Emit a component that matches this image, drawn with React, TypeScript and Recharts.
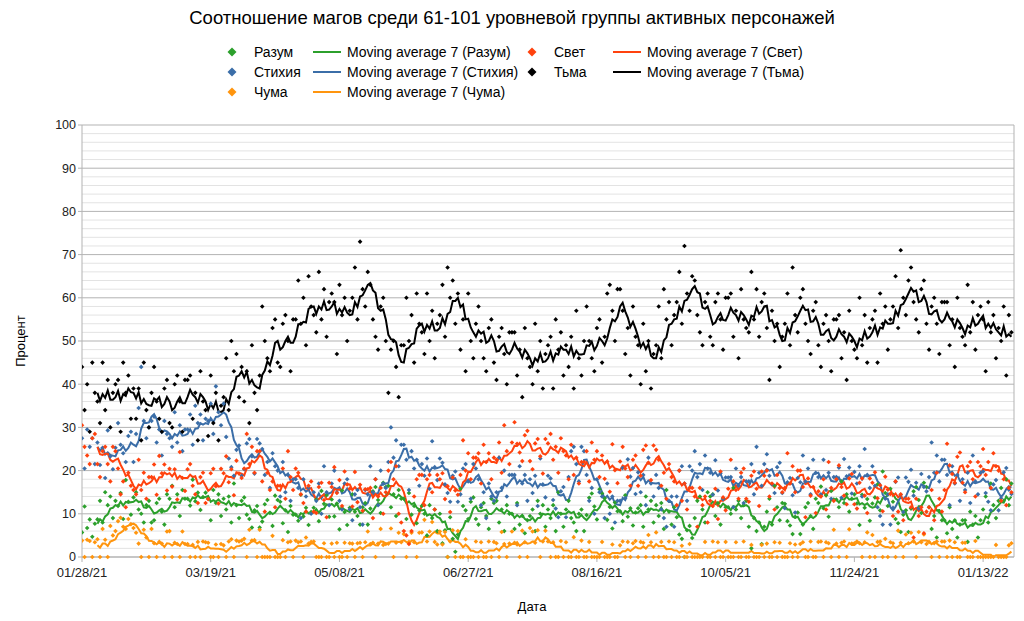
import React from 'react';
import { ComposedChart, Scatter, Line, XAxis, YAxis, ReferenceLine } from 'recharts';

const FONT = '"Liberation Sans", Arial, sans-serif';

const chartTitle = 'Соотношение магов среди 61-101 уровневой группы активных персонажей';
const xTitle = 'Дата';
const yTitle = 'Процент';
const tickDays = [0, 50, 100, 150, 200, 250, 300, 350];
const tickLabels = ['01/28/21', '03/19/21', '05/08/21', '06/27/21', '08/16/21', '10/05/21', '11/24/21', '01/13/22'];
const yTicks = [0, 10, 20, 30, 40, 50, 60, 70, 80, 90, 100];
const yMinor = [2, 4, 6, 8, 12, 14, 16, 18, 22, 24, 26, 28, 32, 34, 36, 38, 42, 44, 46, 48, 52, 54, 56, 58, 62, 64, 66, 68, 72, 74, 76, 78, 82, 84, 86, 88, 92, 94, 96, 98];

const razum = [
  5.7, 11.7, 6.7, 8.7, 4.7, 7.7, 8.7, 13, 8, 15, 12, 14, 9, 13, 11.8, 14.8, 8.8, 17.8, 12.8, 9.8, 13.8,
  15, 11, 10, 8, 12, 13, 8, 8.5, 12.5, 13.5, 10.5, 7.5, 14.5, 13.5, 16.5, 11.5, 14.5, 9.5, 15.5, 13.5, 13.5,
  11.9, 17.9, 12.9, 14.9, 10.9, 13.9, 14.9, 13.5, 8.5, 15.5, 12.5, 14.5, 9.5, 13.5, 11, 14, 8, 17, 12, 9, 13,
  13.8, 9.8, 8.8, 6.8, 10.8, 11.8, 6.8, 8.2, 12.2, 13.2, 10.2, 7.2, 14.2, 13.2, 12.8, 7.8, 10.8, 5.8, 11.8, 9.8, 9.8,
  8.4, 14.4, 9.4, 11.4, 7.4, 10.4, 11.4, 13.3, 8.3, 15.3, 12.3, 14.3, 9.3, 13.3, 9.4, 12.4, 6.4, 15.4, 10.4, 7.4, 11.4,
  14.5, 10.5, 9.5, 7.5, 11.5, 12.5, 7.5, 11.2, 15.2, 16.2, 13.2, 10.2, 17.2, 16.2, 16.5, 11.5, 14.5, 9.5, 15.5, 13.5, 13.5,
  8.8, 14.8, 9.8, 11.8, 7.8, 10.8, 11.8, 10, 5, 12, 9, 11, 6, 10, 3.2, 6.2, 0, 9.2, 4.2, 1.2, 5.2,
  15.8, 11.8, 10.8, 8.8, 12.8, 13.8, 8.8, 7.5, 11.5, 12.5, 9.5, 6.5, 13.5, 12.5, 13, 8, 11, 6, 12, 10, 10,
  6.5, 12.5, 7.5, 9.5, 5.5, 8.5, 9.5, 11, 6, 13, 10, 12, 7, 11, 9, 12, 6, 15, 10, 7, 11,
  13, 9, 8, 6, 10, 11, 6, 9.7, 13.7, 14.7, 11.7, 8.7, 15.7, 14.7, 13.6, 8.6, 11.6, 6.6, 12.6, 10.6, 10.6,
  8.3, 14.3, 9.3, 11.3, 7.3, 10.3, 11.3, 12, 7, 14, 11, 13, 8, 12, 9.5, 12.5, 6.5, 15.5, 10.5, 7.5, 11.5,
  9.2, 5.2, 4.2, 0, 6.2, 7.2, 4.4, 9, 13, 14, 11, 8, 15, 14, 14.5, 9.5, 12.5, 7.5, 13.5, 11.5, 11.5,
  10, 16, 11, 13, 9, 12, 13, 7, 2, 9, 6, 8, 3, 7, 10.5, 13.5, 7.5, 16.5, 11.5, 8.5, 12.5,
  12.3, 8.3, 7.3, 5.3, 9.3, 10.3, 5.3, 7.5, 11.5, 12.5, 9.5, 6.5, 13.5, 12.5, 16.3, 11.3, 14.3, 9.3, 15.3, 13.3, 13.3,
  11.5, 17.5, 12.5, 14.5, 10.5, 13.5, 14.5, 12.4, 7.4, 14.4, 11.4, 13.4, 8.4, 12.4, 13.8, 16.8, 10.8, 19.8, 14.8, 11.8, 15.8,
  12.8, 8.8, 7.8, 5.8, 9.8, 10.8, 5.8, 11.2, 15.2, 16.2, 13.2, 10.2, 17.2, 16.2, 11.5, 6.5, 9.5, 4.5, 10.5, 8.5, 8.5,
  5.5, 11.5, 6.5, 8.5, 4.5, 7.5, 8.5, 8.5, 3.5, 10.5, 7.5, 9.5, 4.5, 8.5, 11, 14, 8, 17, 12, 9, 13,
  16, 13, 18, 12, 17,
];

const stikhiya = [
  27.5, 20.5, 29.5, 25.5, 27.5, 21.5, 26.5, 21.3, 25.3, 18.3, 29.3, 23.3, 20.3, 25.3, 31, 26, 24, 22, 28, 29, 22,
  28.5, 34.5, 44, 31.5, 27.5, 30, 31.5, 32.5, 26.5, 29.5, 23.5, 31.5, 28.5, 27.5, 25.5, 33.5, 26.5, 30.5, 24.5, 29.5, 29.5,
  33, 26, 35, 31, 33, 27, 32, 31.5, 35.5, 28.5, 39.5, 33.5, 30.5, 35.5, 27.8, 22.8, 20.8, 18.8, 24.8, 25.8, 18.8,
  20.3, 26.3, 27.3, 23.3, 19.3, 27.3, 26.3, 25, 19, 22, 16, 24, 21, 20, 14, 22, 15, 19, 13, 18, 18,
  16, 9, 18, 14, 16, 10, 15, 13, 17, 10, 21, 15, 12, 17, 20, 15, 13, 11, 17, 18, 11,
  8.5, 14.5, 15.5, 11.5, 7.5, 15.5, 14.5, 21, 15, 18, 12, 20, 17, 16, 22, 30, 23, 27, 21, 26, 26,
  22.5, 15.5, 24.5, 20.5, 22.5, 16.5, 21.5, 18.8, 22.8, 15.8, 26.8, 20.8, 17.8, 22.8, 21.8, 16.8, 14.8, 12.8, 18.8, 19.8, 12.8,
  14.5, 20.5, 21.5, 17.5, 13.5, 21.5, 20.5, 18, 12, 15, 9, 17, 14, 13, 15, 23, 16, 20, 14, 19, 19,
  19, 12, 21, 17, 19, 13, 18, 14.8, 18.8, 11.8, 22.8, 16.8, 13.8, 18.8, 18.2, 13.2, 11.2, 9.2, 15.2, 16.2, 9.2,
  18.5, 24.5, 25.5, 21.5, 17.5, 25.5, 24.5, 19, 13, 16, 10, 18, 15, 14, 9, 17, 10, 14, 8, 13, 13,
  20.6, 13.6, 22.6, 18.6, 20.6, 14.6, 19.6, 15, 19, 12, 23, 17, 14, 19, 16, 11, 9, 7, 13, 14, 7,
  14, 20, 21, 17, 13, 21, 20, 24.5, 18.5, 21.5, 15.5, 23.5, 20.5, 19.5, 14.4, 22.4, 15.4, 19.4, 13.4, 18.4, 18.4,
  18.5, 11.5, 20.5, 16.5, 18.5, 12.5, 17.5, 17.5, 21.5, 14.5, 25.5, 19.5, 16.5, 21.5, 23.8, 18.8, 16.8, 14.8, 20.8, 21.8, 14.8,
  11.3, 17.3, 18.3, 14.3, 10.3, 18.3, 17.3, 23.5, 17.5, 20.5, 14.5, 22.5, 19.5, 18.5, 14.5, 22.5, 15.5, 19.5, 13.5, 18.5, 18.5,
  20.7, 13.7, 22.7, 18.7, 20.7, 14.7, 19.7, 17, 21, 14, 25, 19, 16, 21, 16.5, 11.5, 9.5, 7.5, 13.5, 14.5, 7.5,
  11.4, 17.4, 18.4, 14.4, 10.4, 18.4, 17.4, 20.2, 14.2, 17.2, 11.2, 19.2, 16.2, 15.2, 18.5, 26.5, 19.5, 23.5, 17.5, 22.5, 22.5,
  19, 12, 21, 17, 19, 13, 18, 15.5, 19.5, 12.5, 23.5, 17.5, 14.5, 19.5, 19.8, 14.8, 12.8, 10.8, 16.8, 17.8, 10.8,
  13.6, 19.6, 20.6, 15.6, 14.6,
];

const chuma = [
  3.8, 0, 4, 3.7, 0, 3.4, 4.1, 0, 6.5, 4, 0, 7.2, 5, 6, 8.3, 9.1, 7, 6.5, 8.8, 7.6, 6.7,
  5.6, 3.1, 0, 6.3, 4.5, 0, 6.5, 3.2, 0, 3.5, 3.1, 0, 5.9, 6, 0, 3.3, 3, 0, 5.9, 3, 3,
  0, 2.8, 0, 3.5, 0, 3.6, 3.4, 3.3, 0, 0, 2.9, 0, 3, 2.7, 0, 3.6, 4.1, 0, 3.8, 3.6, 3.8,
  4.2, 0, 6.3, 3.8, 3.9, 0, 6.3, 0, 0, 0, 0, 4.9, 0, 0, 0, 3.9, 0, 3.4, 3.6, 0, 3.8,
  3.4, 3.6, 0, 4.5, 3.1, 3.5, 3.6, 0, 0, 0, 3.2, 0, 0, 3.1, 0, 3.3, 0, 0, 3.3, 0, 3.2,
  3.1, 0, 3.2, 3.3, 0, 3.4, 5.9, 3, 3.3, 0, 3.1, 6.5, 2.8, 3, 3.1, 6.6, 0, 3.3, 5.6, 3.4, 5.3,
  0, 3.5, 5.6, 3.4, 0, 5.6, 5.7, 8.6, 3.6, 5.9, 8.1, 3.5, 2.9, 5.9, 2.9, 5.8, 0, 3.6, 6.2, 0, 6,
  0, 0, 4.1, 0, 0, 0, 3.6, 0, 3.4, 0, 0, 3.6, 0, 3.5, 3.2, 0, 5.8, 3, 0, 3.1, 5.9,
  3.3, 2.9, 0, 6.1, 3.4, 0, 6.7, 5.9, 3.3, 6.2, 0, 3.6, 6.1, 3.6, 0, 3.4, 0, 0, 3.7, 0, 3.4,
  0, 0, 4.6, 0, 0, 3.8, 0, 0, 3.5, 0, 0, 0, 0, 3.5, 0, 0, 0, 2.9, 0, 0, 2.7,
  3.6, 0, 3.5, 0, 3.2, 3.7, 0, 3.5, 3.3, 0, 5.1, 3.4, 0, 5.7, 0, 3.5, 0, 0, 3.6, 0, 3.4,
  0, 0, 2.6, 0, 0, 3, 0, 0, 0, 0, 0, 3.5, 0, 0, 3.6, 0, 3.4, 0, 0, 3.5, 0,
  0, 0, 3.4, 0, 0, 3.6, 0, 0, 2.8, 0, 0, 0, 2.8, 0, 3.1, 0, 0, 3.4, 0, 3.3, 0,
  0, 0, 3.2, 0, 2.9, 0, 3, 3.4, 0, 0, 3.6, 0, 0, 3.5, 3.6, 0, 3.4, 3.2, 0, 6.3, 3.1,
  0, 3.3, 3.6, 0, 6.4, 3.1, 3.2, 3.6, 3.2, 0, 3.4, 5.7, 0, 5.1, 0, 3.5, 3.6, 0, 4.2, 0, 3.4,
  3.2, 0, 6.1, 3.3, 0, 5.2, 3.2, 5.6, 3.6, 0, 5.8, 3.4, 5.2, 3, 3.5, 0, 3.2, 3.6, 0, 3.6, 3.6,
  0, 3.8, 0, 3.4, 0, 0, 3.3, 3.3, 0, 0, 0, 3.7, 0, 0, 0, 0, 0, 0, 0, 2.8, 0,
  0, 0, 0, 2.7, 3.2,
];

const svet = [
  30.5, 25.5, 23.5, 21.5, 27.5, 28.5, 21.5, 18.5, 24.5, 25.5, 21.5, 17.5, 25.5, 24.5, 20.5, 14.5, 17.5, 11.5, 19.5, 16.5, 15.5,
  14.5, 22.5, 15.5, 19.5, 13.5, 18.5, 18.5, 21.4, 14.4, 23.4, 19.4, 21.4, 15.4, 20.4, 16.3, 20.3, 13.3, 24.3, 18.3, 15.3, 20.3,
  21.5, 16.5, 14.5, 12.5, 18.5, 19.5, 12.5, 13.4, 19.4, 20.4, 16.4, 12.4, 20.4, 19.4, 23.3, 17.3, 20.3, 14.3, 22.3, 19.3, 18.3,
  20.5, 28.5, 21.5, 25.5, 19.5, 24.5, 24.5, 17.5, 10.5, 19.5, 15.5, 17.5, 11.5, 16.5, 16.5, 20.5, 13.5, 24.5, 18.5, 15.5, 20.5,
  19.5, 14.5, 12.5, 10.5, 16.5, 17.5, 10.5, 10.2, 16.2, 17.2, 13.2, 9.2, 17.2, 16.2, 20.8, 14.8, 17.8, 11.8, 19.8, 16.8, 15.8,
  11.7, 19.7, 12.7, 16.7, 10.7, 15.7, 15.7, 16, 9, 18, 14, 16, 10, 15, 20, 22, 18, 21, 10, 8, 6,
  5, 3, 6, 14, 18, 19, 19, 12, 18, 19, 15, 11, 19, 18, 19.4, 13.4, 16.4, 10.4, 18.4, 15.4, 14.4,
  19, 27, 20, 24, 18, 23, 23, 24, 17, 26, 22, 24, 18, 23, 22.5, 26.5, 19.5, 30.5, 24.5, 21.5, 26.5,
  31.2, 26.2, 24.2, 22.2, 28.2, 29.2, 22.2, 20.3, 26.3, 27.3, 23.3, 19.3, 27.3, 26.3, 28.5, 22.5, 25.5, 19.5, 27.5, 24.5, 23.5,
  18, 26, 19, 23, 17, 22, 22, 24.5, 17.5, 26.5, 22.5, 24.5, 18.5, 23.5, 18.1, 22.1, 15.1, 26.1, 20.1, 17.1, 22.1,
  25.5, 20.5, 18.5, 16.5, 22.5, 23.5, 16.5, 18.8, 24.8, 25.8, 21.8, 17.8, 25.8, 24.8, 22.5, 16.5, 19.5, 13.5, 21.5, 18.5, 17.5,
  12, 20, 13, 17, 11, 16, 16, 14, 7, 16, 12, 14, 8, 13, 11.8, 15.8, 8.8, 19.8, 13.8, 10.8, 15.8,
  22.5, 17.5, 15.5, 13.5, 19.5, 20.5, 13.5, 12.8, 18.8, 19.8, 15.8, 11.8, 19.8, 18.8, 20, 14, 17, 11, 19, 16, 15,
  16, 24, 17, 21, 15, 20, 20, 16.2, 9.2, 18.2, 14.2, 16.2, 10.2, 15.2, 14, 18, 11, 22, 16, 13, 18,
  21.2, 16.2, 14.2, 12.2, 18.2, 19.2, 12.2, 11.2, 17.2, 18.2, 14.2, 10.2, 18.2, 17.2, 19.6, 13.6, 16.6, 10.6, 18.6, 15.6, 14.6,
  9.5, 17.5, 10.5, 14.5, 8.5, 13.5, 13.5, 11.5, 4.5, 13.5, 9.5, 11.5, 5.5, 10.5, 11.5, 15.5, 8.5, 19.5, 13.5, 10.5, 15.5,
  26.2, 21.2, 19.2, 17.2, 23.2, 24.2, 17.2, 15, 21, 22, 18, 14, 22, 21, 25, 19, 22, 16, 24, 21, 20,
  13, 18, 12, 16, 15,
];

const tma = [
  44, 34, 40, 29, 45, 38, 36, 31, 45, 34, 41, 30, 38, 40, 41, 29, 45, 38, 42, 32, 39,
  32, 39, 27, 45, 34, 30, 38, 44, 36, 32, 29, 39, 41, 31, 30, 40, 42, 36, 29, 41, 41,
  42, 32, 38, 27, 43, 36, 34, 28, 42, 31, 38, 27, 35, 37, 46, 34, 50, 43, 47, 37, 44,
  36, 43, 31, 49, 38, 34, 42, 58, 50, 46, 43, 53, 55, 45, 44, 54, 56, 50, 43, 55, 55,
  64, 54, 60, 49, 65, 58, 56, 52, 66, 55, 62, 51, 59, 61, 59, 47, 63, 56, 60, 50, 57,
  60, 67, 55, 73, 62, 58, 66, 63, 55, 51, 48, 58, 60, 50, 38, 48, 50, 44, 37, 49, 49,
  60, 50, 56, 45, 61, 54, 52, 47, 61, 50, 57, 46, 54, 56, 63, 51, 67, 60, 64, 54, 61,
  48, 55, 43, 61, 50, 46, 54, 58, 50, 46, 43, 53, 55, 45, 41, 51, 53, 47, 40, 52, 52,
  52, 42, 48, 37, 53, 46, 44, 40, 54, 43, 50, 39, 47, 49, 51, 39, 55, 48, 52, 42, 49,
  44, 51, 39, 57, 46, 42, 50, 58, 50, 46, 43, 53, 55, 45, 51, 61, 63, 57, 50, 62, 62,
  57, 47, 53, 42, 58, 51, 49, 40, 54, 43, 50, 39, 47, 49, 58, 46, 62, 55, 59, 49, 56,
  59, 66, 54, 72, 61, 57, 65, 64, 56, 52, 49, 59, 61, 51, 49, 59, 61, 55, 48, 60, 60,
  61, 51, 57, 46, 62, 55, 53, 52, 66, 55, 62, 51, 59, 61, 53, 41, 57, 50, 54, 44, 51,
  54, 61, 49, 67, 56, 52, 60, 62, 54, 50, 47, 57, 59, 49, 44, 54, 56, 50, 43, 55, 55,
  56, 46, 52, 41, 57, 50, 48, 46, 60, 49, 56, 45, 53, 55, 57, 45, 61, 54, 58, 48, 55,
  58, 65, 53, 71, 60, 56, 64, 67, 59, 55, 52, 62, 64, 54, 48, 58, 60, 54, 47, 59, 59,
  59, 49, 55, 44, 60, 53, 51, 49, 63, 52, 59, 48, 56, 58, 55, 43, 59, 52, 56, 46, 53,
  50, 58, 42, 56, 52,
];

const series = [
  { key: 'razum', name: 'Разум', color: '#2ca02c', values: razum },
  { key: 'stikhiya', name: 'Стихия', color: '#3b6ea8', values: stikhiya },
  { key: 'chuma', name: 'Чума', color: '#ff950e', values: chuma },
  { key: 'svet', name: 'Свет', color: '#ff420e', values: svet },
  { key: 'tma', name: 'Тьма', color: '#000000', values: tma },
];

function movingAverage(v: number[], n = 7): (number | null)[] {
  return v.map((_, i) => {
    if (i < n - 1) return null;
    let s = 0;
    for (let k = i - n + 1; k <= i; k++) s += v[k];
    return s / n;
  });
}

const maps = series.map((s) => movingAverage(s.values));
const data = razum.map((_, i) => {
  const row: Record<string, number | null> = { day: i };
  series.forEach((s, j) => {
    row[s.key] = s.values[i];
    row['ma_' + s.key] = maps[j][i];
  });
  return row;
});

const diamond = (color: string) => (props: any) => {
  const { cx, cy } = props;
  if (cx == null || cy == null) return <g />;
  const r = 2.3;
  return <path d={`M${cx},${cy - r}L${cx + r},${cy}L${cx},${cy + r}L${cx - r},${cy}Z`} fill={color} />;
};

const legendLayout = [
  { s: 0, x: 226, y: 52 },
  { s: 1, x: 226, y: 72 },
  { s: 2, x: 226, y: 92 },
  { s: 3, x: 526, y: 52 },
  { s: 4, x: 526, y: 72 },
];

function ChartLegend() {
  return (
    <div style={{ position: 'absolute', left: 0, top: 0, width: 1024, height: 110, fontFamily: FONT, fontSize: 14, color: '#000' }}>
      {legendLayout.map(({ s, x, y }) => {
        const ser = series[s];
        return (
          <React.Fragment key={ser.key}>
            <svg style={{ position: 'absolute', left: x + 1, top: y - 5 }} width={10} height={10}>
              <path d="M5,0.5L9.5,5L5,9.5L0.5,5Z" fill={ser.color} />
            </svg>
            <div style={{ position: 'absolute', left: x + 28, top: y - 9, whiteSpace: 'nowrap', lineHeight: '18px' }}>{ser.name}</div>
            <svg style={{ position: 'absolute', left: x + 87, top: y - 2 }} width={28} height={4}>
              <line x1={0} y1={2} x2={28} y2={2} stroke={ser.color} strokeWidth={2} />
            </svg>
            <div style={{ position: 'absolute', left: x + 121, top: y - 9, whiteSpace: 'nowrap', lineHeight: '18px' }}>
              {'Moving average 7 (' + ser.name + ')'}
            </div>
          </React.Fragment>
        );
      })}
    </div>
  );
}

export default function App() {
  return (
    <div style={{ position: 'absolute', left: 0, top: 0, width: 1024, height: 621, background: '#fff', fontFamily: FONT }}>
      <ComposedChart width={1024} height={621} data={data} margin={{ top: 125, right: 10, bottom: 0, left: 0 }}>
        <XAxis
          dataKey="day"
          type="number"
          domain={[0, 362]}
          ticks={tickDays}
          interval={0}
          tickFormatter={(d: number) => tickLabels[tickDays.indexOf(d)] ?? ''}
          height={64}
          tickSize={5}
          tickMargin={6}
          stroke="#b3b3b3"
          tick={{ fill: '#222', fontSize: 13, fontFamily: FONT }}
          allowDataOverflow
        />
        <YAxis
          type="number"
          domain={[0, 100]}
          ticks={yTicks}
          interval={0}
          width={82}
          tickSize={4}
          stroke="#b3b3b3"
          tick={{ fill: '#222', fontSize: 12.5, fontFamily: FONT }}
        />
        {yMinor.map((v) => (
          <ReferenceLine key={'mn' + v} y={v} stroke="#e3e3e3" strokeWidth={1} />
        ))}
        {yTicks.map((v) => (
          <ReferenceLine key={'mj' + v} y={v} stroke="#b3b3b3" strokeWidth={1} />
        ))}
        <ReferenceLine x={362} stroke="#b3b3b3" strokeWidth={1} />
        {series.map((s) => (
          <Scatter
            key={'sc' + s.key}
            name={s.name}
            dataKey={s.key}
            fill={s.color}
            shape={diamond(s.color)}
            isAnimationActive={false}
            legendType="none"
          />
        ))}
        {series.map((s) => (
          <Line
            key={'ln' + s.key}
            name={'Moving average 7 (' + s.name + ')'}
            dataKey={'ma_' + s.key}
            stroke={s.color}
            strokeWidth={2}
            dot={false}
            activeDot={false}
            connectNulls={false}
            isAnimationActive={false}
            legendType="none"
          />
        ))}
      </ComposedChart>
      <div style={{ position: 'absolute', left: 0, top: 6, width: 1024, textAlign: 'center', fontSize: 18.5, lineHeight: '24px', color: '#000' }}>
        {chartTitle}
      </div>
      <ChartLegend />
      <div style={{ position: 'absolute', left: 20, top: 341, transform: 'translate(-50%, -50%) rotate(-90deg)', fontSize: 13, whiteSpace: 'nowrap', color: '#000' }}>
        {yTitle}
      </div>
      <div style={{ position: 'absolute', left: 532, top: 606, transform: 'translate(-50%, -50%)', fontSize: 13, color: '#000' }}>
        {xTitle}
      </div>
    </div>
  );
}
